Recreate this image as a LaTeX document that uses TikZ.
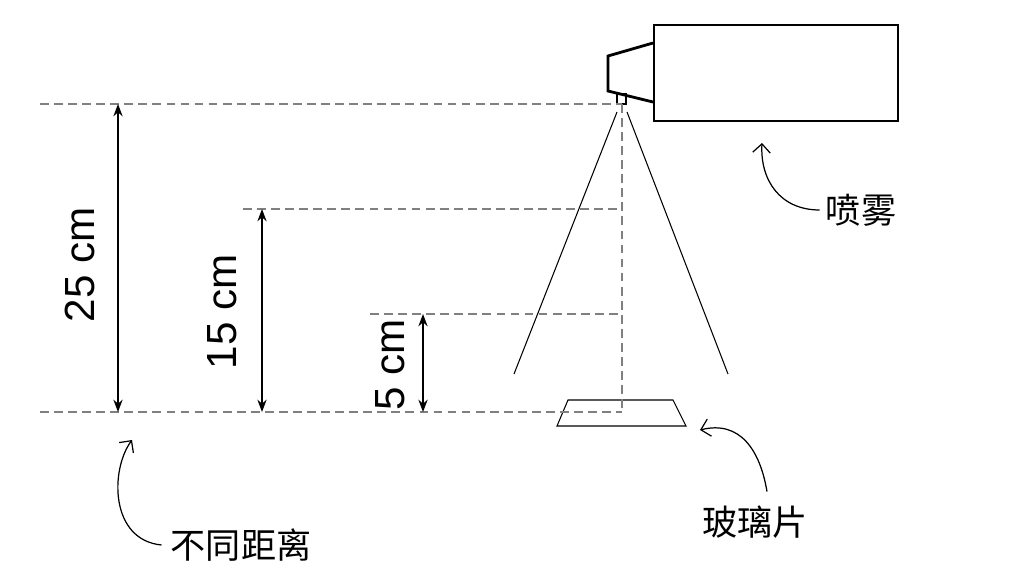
\documentclass[tikz,border=0pt]{standalone}
\usepackage{fontspec}
\setmainfont{Liberation Sans}
\newfontfamily\cjk{Noto Sans CJK SC}
\usetikzlibrary{arrows.meta}
\begin{document}
\begin{tikzpicture}[x=0.02cm,y=-0.02cm,
        guide/.style={dashed,gray,line width=0.7pt,dash pattern=on 5pt off 3pt},
        dim/.style={{Stealth[length=7pt]}-{Stealth[length=7pt]},line width=0.9pt},
        note/.style={-{Straight Barb[length=5pt]},line width=0.7pt},
        dimlabel/.style={rotate=90,font=\fontsize{24}{26}\selectfont},
        tag/.style={font=\cjk\fontsize{20}{22}\selectfont}]
        \useasboundingbox (0,0) rectangle (1024,584);
        % sprayer
        \draw[line width=1.6pt] (654,25) rectangle (898,121);
        \draw[line width=1.6pt] (653,43) -- (608,56) -- (608,91) -- (653,102);
        \draw[line width=1pt] (617,94) rectangle (626,104);
        \coordinate (tip) at (622,104);
        \draw[line width=0.6pt] (617,112) -- (514,374);
        \draw[line width=0.6pt] (627,112) -- (728,374);
        % glass
        \draw[line width=0.6pt] (568,400) -- (673,400) -- (686,426) -- (557,426) -- cycle;
        \coordinate (base) at (622,412);
        \draw[guide] (tip) -- (base);
        % levels
        \coordinate (a25) at (40,104);
        \coordinate (a15) at (243,209);
        \coordinate (a5) at (370,314);
        \coordinate (a0) at (40,412);
        \draw[guide] (a25) -- (tip);
        \draw[guide] (a15) -- (622,209);
        \draw[guide] (a5) -- (622,314);
        \draw[guide] (a0) -- (base);
        % dimensions
        \draw[dim] (118,104) -- (118,412);
        \draw[dim] (262,209) -- (262,412);
        \draw[dim] (423,314) -- (423,412);
        \node[dimlabel] (l25) at (80,265) {25 cm};
        \node[dimlabel] (l15) at (222,312) {15 cm};
        \node[dimlabel] (l5) at (390,365) {5 cm};
        % notes
        \node[tag] (spray) at (861,210) {喷雾};
        \node[tag] (glass) at (755,522) {玻璃片};
        \node[tag] (dist) at (241,545) {不同距离};
        \draw[note] (spray.west) .. controls (780,210) and (760,180) .. (762,143);
        \draw[note] (glass.north) ++(12,-8) .. controls (760,450) and (740,420) .. (700,430);
        \draw[note] (dist.west) ++(-3,0) .. controls (110,540) and (110,470) .. (132,440);
\end{tikzpicture}
\end{document}
